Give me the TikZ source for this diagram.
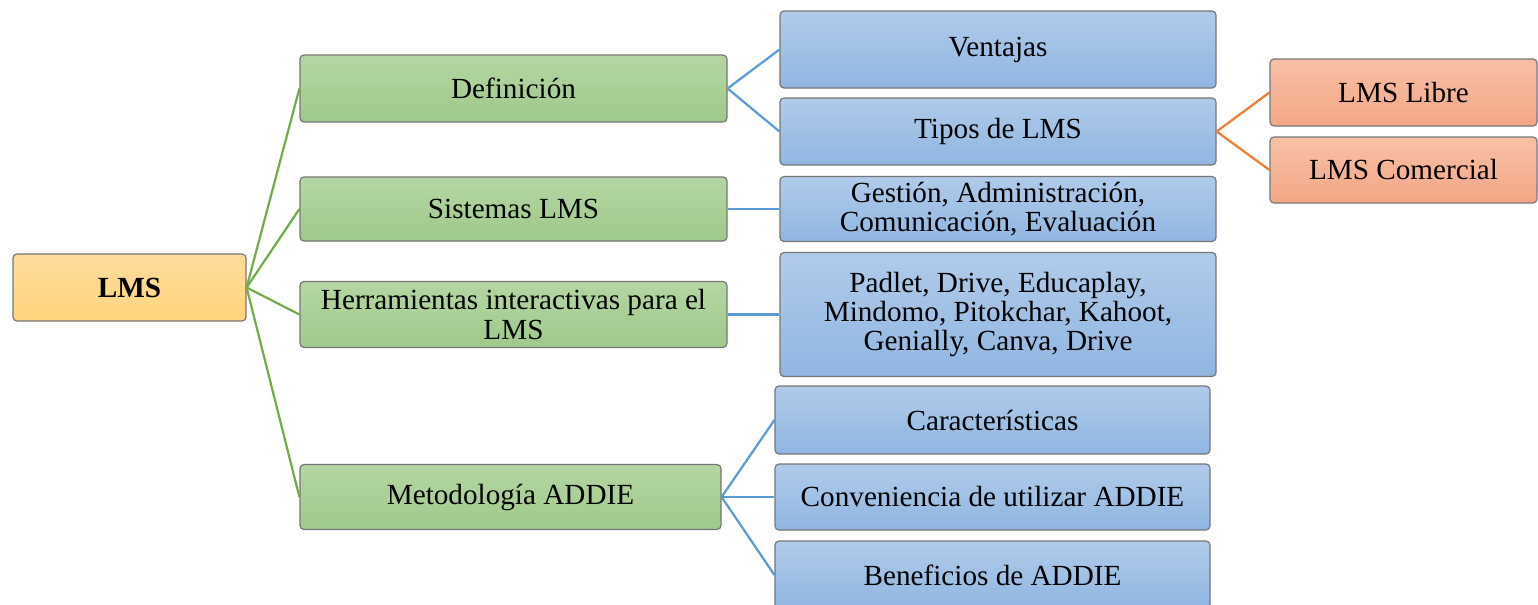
\documentclass[tikz,border=0pt]{standalone}
\usepackage{fontspec}
\setmainfont{Liberation Serif}
\definecolor{gtop}{HTML}{B5D6A3}
\definecolor{gbot}{HTML}{9FC98A}
\definecolor{btop}{HTML}{B0CBEA}
\definecolor{bbot}{HTML}{90B6E1}
\definecolor{otop}{HTML}{F8C0A6}
\definecolor{obot}{HTML}{F4A686}
\definecolor{ytop}{HTML}{FFDC9C}
\definecolor{ybot}{HTML}{FFD47D}
\definecolor{lgreen}{HTML}{70AD47}
\definecolor{lblue}{HTML}{5B9BD5}
\definecolor{lorange}{HTML}{ED7D31}
\definecolor{edge}{HTML}{777777}
\tikzset{
  box/.style={draw=edge, line width=0.6pt, rounded corners=2pt, align=center,
    inner sep=0pt, font=\fontsize{14.6}{14.6}\selectfont},
  greenbox/.style={box, top color=gtop, bottom color=gbot},
  bluebox/.style={box, top color=btop, bottom color=bbot},
  orangebox/.style={box, top color=otop, bottom color=obot},
  yellowbox/.style={box, top color=ytop, bottom color=ybot},
  wh/.style 2 args={minimum width=#1*0.5pt, minimum height=#2*0.5pt},
  gline/.style={draw=lgreen, line width=1.1pt},
  bline/.style={draw=lblue, line width=1.1pt},
  oline/.style={draw=lorange, line width=1.1pt},
}
\begin{document}
\begin{tikzpicture}[x=0.5pt,y=-0.5pt]
\useasboundingbox (0,0) rectangle (1538,605);
\clip (0,0) rectangle (1538,605);
\fill[white] (0,0) rectangle (1538,605);
% nodes
\node[yellowbox, wh={233}{67}, font=\fontsize{14.6}{14.6}\selectfont\bfseries] (lms) at (129.5,287.5) {LMS};
\node[greenbox, wh={427}{67}] (def) at (513.5,88.5) {Definición};
\node[greenbox, wh={427}{64}] (sis) at (513.5,209) {Sistemas LMS};
\node[greenbox, wh={427}{66}] (her) at (513.5,314.5) {Herramientas interactivas para el\\LMS};
\node[greenbox, wh={421}{65}] (met) at (510.5,497) {Metodología ADDIE};
\node[bluebox, wh={436}{77}] (ven) at (998,49.5) {Ventajas};
\node[bluebox, wh={436}{67}] (tip) at (998,131.5) {Tipos de LMS};
\node[bluebox, wh={436}{65}] (ges) at (998,209) {Gestión, Administración,\\Comunicación, Evaluación};
\node[bluebox, wh={436}{124}] (pad) at (998,314.5) {Padlet, Drive, Educaplay,\\Mindomo, Pitokchar, Kahoot,\\Genially, Canva, Drive};
\node[bluebox, wh={435}{68}] (car) at (992.5,420) {Características};
\node[bluebox, wh={435}{66}] (con) at (992.5,497) {Conveniencia de utilizar ADDIE};
\node[bluebox, wh={435}{68}] (ben) at (992.5,575) {Beneficios de ADDIE};
\node[orangebox, wh={267}{67}] (lib) at (1403.5,92.5) {LMS Libre};
\node[orangebox, wh={267}{66}] (com) at (1403.5,170) {LMS Comercial};
% connectors
\draw[gline] (lms.east) -- (def.west);
\draw[gline] (lms.east) -- (sis.west);
\draw[gline] (lms.east) -- (her.west);
\draw[gline] (lms.east) -- (met.west);
\draw[bline] (def.east) -- (ven.west);
\draw[bline] (def.east) -- (tip.west);
\draw[bline] (sis.east) -- (ges.west);
\draw[bline] (her.east) -- (pad.west);
\draw[bline] (met.east) -- (car.west);
\draw[bline] (met.east) -- (con.west);
\draw[bline] (met.east) -- (ben.west);
\draw[oline] (tip.east) -- (lib.west);
\draw[oline] (tip.east) -- (com.west);
\end{tikzpicture}
\end{document}
